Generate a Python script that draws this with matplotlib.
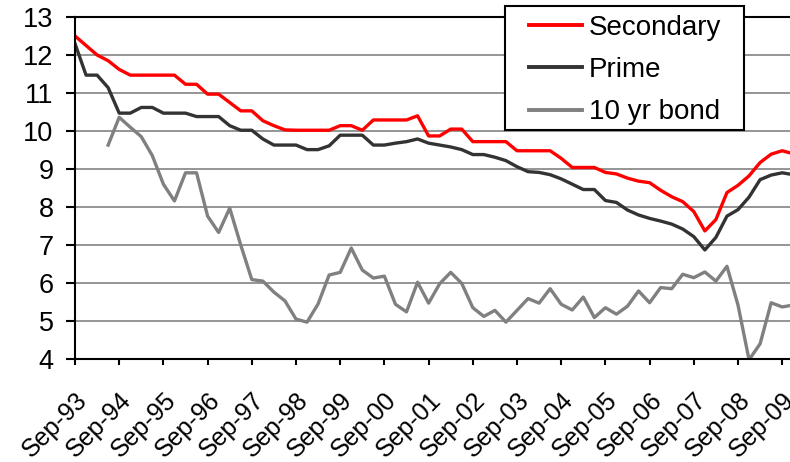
import numpy as np
import matplotlib
matplotlib.use("Agg")
import matplotlib.pyplot as plt
import matplotlib.patches as mpatches
from matplotlib.transforms import ScaledTranslation

plt.rcParams['font.family'] = ['Liberation Sans', 'DejaVu Sans']

# quarterly, Sep-93 .. Dec-09
secondary = [12.5, 12.25, 12.0, 11.85, 11.62, 11.47, 11.47, 11.47, 11.47, 11.47,
             11.23, 11.23, 10.97, 10.97, 10.75, 10.53, 10.53, 10.27, 10.14, 10.03,
             10.02, 10.02, 10.02, 10.02, 10.14, 10.14, 10.02, 10.29, 10.29, 10.29,
             10.29, 10.4, 9.87, 9.87, 10.05, 10.05, 9.72, 9.72, 9.72, 9.72,
             9.48, 9.48, 9.48, 9.48, 9.28, 9.04, 9.04, 9.04, 8.91, 8.87,
             8.76, 8.68, 8.64, 8.44, 8.27, 8.14, 7.88, 7.37, 7.67, 8.38,
             8.57, 8.82, 9.17, 9.39, 9.48, 9.4]
prime = [12.3, 11.47, 11.47, 11.14, 10.47, 10.47, 10.62, 10.62, 10.47, 10.47,
         10.47, 10.38, 10.38, 10.38, 10.14, 10.02, 10.02, 9.79, 9.63, 9.63,
         9.63, 9.51, 9.51, 9.61, 9.89, 9.89, 9.89, 9.63, 9.63, 9.68,
         9.72, 9.79, 9.68, 9.63, 9.58, 9.51, 9.38, 9.38, 9.31, 9.22,
         9.06, 8.93, 8.91, 8.85, 8.74, 8.6, 8.46, 8.46, 8.17, 8.12,
         7.92, 7.79, 7.7, 7.63, 7.55, 7.42, 7.22, 6.87, 7.2, 7.76,
         7.93, 8.26, 8.72, 8.84, 8.9, 8.85]
bond10 = [np.nan, np.nan, np.nan, 9.63, 10.36, 10.1, 9.85, 9.35, 8.6, 8.16,
          8.9, 8.9, 7.76, 7.33, 7.97, 7.0, 6.09, 6.05, 5.76, 5.53,
          5.05, 4.97, 5.45, 6.21, 6.28, 6.92, 6.34, 6.13, 6.18, 5.44,
          5.24, 6.02, 5.47, 5.98, 6.28, 5.99, 5.35, 5.12, 5.28, 4.97,
          5.28, 5.59, 5.47, 5.85, 5.44, 5.29, 5.63, 5.09, 5.35, 5.18,
          5.39, 5.79, 5.48, 5.88, 5.85, 6.23, 6.14, 6.29, 6.05, 6.44,
          5.42, 3.98, 4.4, 5.48, 5.37, 5.42]
tick_labels = ['Sep-93', 'Sep-94', 'Sep-95', 'Sep-96', 'Sep-97', 'Sep-98',
               'Sep-99', 'Sep-00', 'Sep-01', 'Sep-02', 'Sep-03', 'Sep-04',
               'Sep-05', 'Sep-06', 'Sep-07', 'Sep-08', 'Sep-09']

x = np.arange(len(secondary))
W, H = 790, 462

fig = plt.figure(figsize=(W / 100, H / 100), dpi=100)
ax = fig.add_axes([75/W, 103/H, 715/W, 342/H])

ax.plot(x, secondary, color='#ff0000', lw=2.4, label='Secondary', zorder=2.2)
ax.plot(x, prime, color='#333333', lw=2.4, label='Prime', zorder=2.1)
ax.plot(x, bond10, color='#808080', lw=2.4, label='10 yr bond', zorder=2)

ax.set_ylim(4, 13)
ax.set_yticks(range(4, 14))
ax.set_xlim(0, 715/11.05)
ax.set_xticks(x[::4])
ax.set_xticklabels(tick_labels, rotation=45, ha='right', va='top',
                   rotation_mode='anchor')
shift = ScaledTranslation(1.5/100, 0, fig.dpi_scale_trans)
for lbl in ax.get_xticklabels():
    lbl.set_transform(lbl.get_transform() + shift)

ax.grid(axis='y', color='#8c8c8c', lw=1.3)
ax.set_axisbelow(True)
ax.spines['right'].set_visible(False)
for s in ['left', 'bottom', 'top']:
    ax.spines[s].set_linewidth(1.5)
    ax.spines[s].set_color('black')
ax.tick_params(axis='both', width=1.5, direction='out')
ax.tick_params(axis='x', length=4, pad=17, labelsize=18)
ax.tick_params(axis='y', length=6.5, pad=9, labelsize=19.5)

# legend box drawn by hand, entries placed inside it
box = mpatches.Rectangle((505/W, 1 - 130/H), 239/W, 124/H, transform=fig.transFigure,
                         facecolor='white', edgecolor='black', lw=1.5,
                         clip_on=False, zorder=4.5)
ax.add_patch(box)
leg = ax.legend(loc='upper left', bbox_to_anchor=(529/W, 1 - 15/H),
                bbox_transform=fig.transFigure, fontsize=20, frameon=False,
                handlelength=1.9, handletextpad=0.25, labelspacing=0.58,
                borderpad=0, borderaxespad=0)
for h in leg.get_lines():
    h.set_linewidth(2.8)

fig.savefig('out.png', dpi=100)
